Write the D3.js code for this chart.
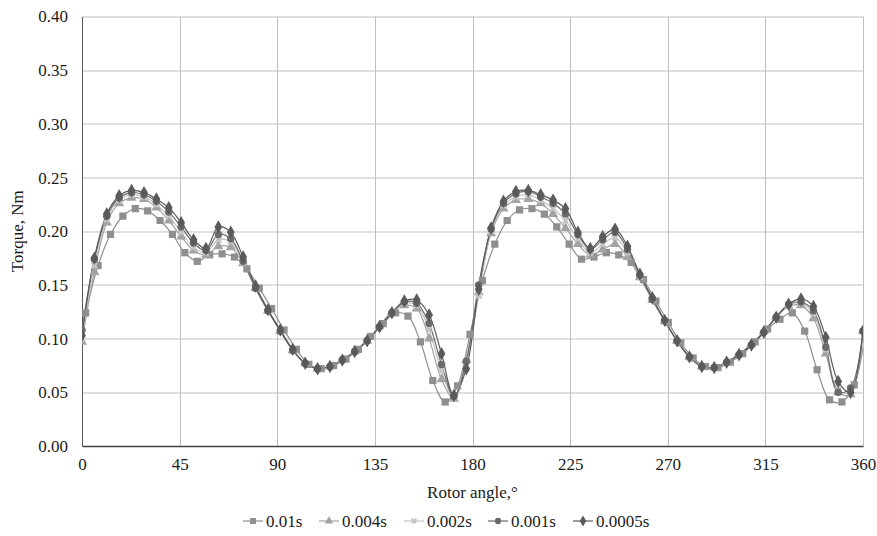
<!DOCTYPE html>
<html>
<head>
<meta charset="utf-8">
<script src="https://cdn.jsdelivr.net/npm/d3@7"></script>
<style>
  body { margin: 0; background: #fff; }
</style>
</head>
<body>
<div id="chart"></div>
<script>
// angle grid: step between samples, per-series start offset
const angleStep = 360 / 63;
const seriesNames = ['0.01s', '0.004s', '0.002s', '0.001s', '0.0005s'];
const seriesOffsets = [1.7, 0, 0, 0, 0];

const torque001 = [0.124, 0.168, 0.197, 0.214, 0.221, 0.219, 0.210, 0.197, 0.180, 0.172,
  0.178, 0.179, 0.176, 0.165, 0.147, 0.128, 0.108, 0.090, 0.076, 0.072,
  0.075, 0.081, 0.090, 0.102, 0.114, 0.124, 0.121, 0.097, 0.061, 0.041,
  0.056, 0.104, 0.154, 0.188, 0.210, 0.220, 0.221, 0.216, 0.204, 0.188,
  0.174, 0.176, 0.180, 0.178, 0.171, 0.155, 0.135, 0.115, 0.096, 0.082,
  0.074, 0.073, 0.078, 0.086, 0.097, 0.109, 0.118, 0.124, 0.107, 0.071,
  0.043, 0.041, 0.057, 0.115];
const torque0004 = [0.097, 0.162, 0.208, 0.226, 0.231, 0.230, 0.222, 0.210, 0.195, 0.182,
  0.178, 0.186, 0.185, 0.170, 0.147, 0.126, 0.107, 0.089, 0.077, 0.072,
  0.074, 0.080, 0.088, 0.098, 0.112, 0.125, 0.131, 0.128, 0.100, 0.062,
  0.044, 0.080, 0.143, 0.198, 0.221, 0.229, 0.230, 0.226, 0.216, 0.203,
  0.188, 0.178, 0.183, 0.188, 0.176, 0.157, 0.136, 0.116, 0.098, 0.083,
  0.074, 0.073, 0.078, 0.086, 0.095, 0.107, 0.120, 0.130, 0.131, 0.119,
  0.086, 0.050, 0.048, 0.107];
const torque0002 = [0.100, 0.168, 0.211, 0.229, 0.234, 0.232, 0.225, 0.214, 0.199, 0.185,
  0.180, 0.192, 0.190, 0.171, 0.147, 0.126, 0.107, 0.089, 0.077, 0.072,
  0.074, 0.080, 0.088, 0.098, 0.111, 0.124, 0.133, 0.131, 0.108, 0.070,
  0.045, 0.078, 0.140, 0.200, 0.224, 0.232, 0.234, 0.229, 0.221, 0.210,
  0.193, 0.180, 0.188, 0.194, 0.180, 0.158, 0.137, 0.117, 0.098, 0.083,
  0.074, 0.073, 0.078, 0.085, 0.094, 0.106, 0.120, 0.131, 0.133, 0.123,
  0.090, 0.052, 0.050, 0.107];
const torque0001 = [0.108, 0.174, 0.214, 0.231, 0.236, 0.234, 0.228, 0.218, 0.204, 0.189,
  0.182, 0.197, 0.193, 0.172, 0.147, 0.126, 0.107, 0.089, 0.077, 0.072,
  0.074, 0.080, 0.088, 0.098, 0.111, 0.124, 0.134, 0.133, 0.114, 0.076,
  0.046, 0.079, 0.150, 0.202, 0.226, 0.235, 0.237, 0.232, 0.226, 0.216,
  0.197, 0.183, 0.192, 0.199, 0.183, 0.159, 0.137, 0.117, 0.098, 0.083,
  0.074, 0.073, 0.078, 0.085, 0.094, 0.106, 0.120, 0.132, 0.134, 0.126,
  0.092, 0.050, 0.054, 0.107];
const torque00005 = [0.103, 0.175, 0.216, 0.233, 0.238, 0.236, 0.230, 0.222, 0.208, 0.192,
  0.184, 0.204, 0.199, 0.176, 0.149, 0.127, 0.108, 0.090, 0.077, 0.072,
  0.074, 0.080, 0.088, 0.098, 0.111, 0.124, 0.135, 0.136, 0.122, 0.086,
  0.047, 0.072, 0.146, 0.203, 0.228, 0.237, 0.238, 0.234, 0.229, 0.221,
  0.199, 0.184, 0.195, 0.202, 0.186, 0.160, 0.138, 0.117, 0.098, 0.083,
  0.074, 0.073, 0.078, 0.085, 0.094, 0.106, 0.120, 0.132, 0.137, 0.130,
  0.101, 0.060, 0.050, 0.107];

const xTicks = [0, 45, 90, 135, 180, 225, 270, 315, 360];
const yTicks = [0, 0.05, 0.10, 0.15, 0.20, 0.25, 0.30, 0.35, 0.40];

const allValues = [torque001, torque0004, torque0002, torque0001, torque00005];
const colors = ['#8f8f8f', '#a3a3a3', '#c4c4c4', '#6b6b6b', '#5a5a5a'];
const markers = [d3.symbolSquare, d3.symbolTriangle, d3.symbolCross, d3.symbolCircle, d3.symbolDiamond];
const markerSize = [52, 44, 32, 44, 52];
const fontFamily = '"Liberation Serif", "Times New Roman", Tinos, "DejaVu Serif", serif';
const textColor = '#1a1a1a';

const series = seriesNames.map((name, i) => ({
    name: name,
    color: colors[i],
    points: allValues[i].map((v, k) => ({ a: seriesOffsets[i] + k * angleStep, v: v }))
}));

const W = 877, H = 536;
const margin = { top: 16.5, right: 14, bottom: 90, left: 82 };
const width = W - margin.left - margin.right;
const height = H - margin.top - margin.bottom;

const svg = d3.select('#chart').append('svg')
    .attr('width', W)
    .attr('height', H)
    .attr('font-family', fontFamily);

const g = svg.append('g')
    .attr('transform', `translate(${margin.left}, ${margin.top})`);

const x = d3.scaleLinear().domain([0, 360]).range([0, width]);
const y = d3.scaleLinear().domain([0, 0.40]).range([height, 0]);

// gridlines
g.append('g')
    .selectAll('line')
    .data(yTicks.slice(1))
    .enter().append('line')
    .attr('x1', 0).attr('x2', width)
    .attr('y1', d => Math.round(y(d)) + 0.5).attr('y2', d => Math.round(y(d)) + 0.5)
    .style('stroke', '#bfbfbf');
g.append('g')
    .selectAll('line')
    .data(xTicks.slice(1))
    .enter().append('line')
    .attr('y1', 0).attr('y2', height)
    .attr('x1', d => Math.round(x(d)) + 0.5).attr('x2', d => Math.round(x(d)) + 0.5)
    .style('stroke', '#bfbfbf');

// axes
const yAxis = g.append('g')
    .call(d3.axisLeft(y).tickValues(yTicks).tickFormat(d3.format('.2f')).tickSize(0).tickPadding(14));
yAxis.attr('font-family', null).attr('font-size', null);
yAxis.select('.domain').style('stroke', '#595959');
yAxis.selectAll('text')
    .style('font-family', fontFamily)
    .style('font-size', '17px')
    .style('fill', textColor);

const xAxis = g.append('g')
    .attr('transform', `translate(0, ${height})`)
    .call(d3.axisBottom(x).tickValues(xTicks).tickSize(0).tickPadding(12));
xAxis.attr('font-family', null).attr('font-size', null);
xAxis.select('.domain').style('stroke', '#404040').style('stroke-width', 1.5);
xAxis.selectAll('text')
    .style('font-family', fontFamily)
    .style('font-size', '17px')
    .style('fill', textColor);

svg.append('text')
    .attr('transform', `translate(23, ${margin.top + height / 2}) rotate(-90)`)
    .attr('text-anchor', 'middle')
    .style('font-family', fontFamily)
    .style('font-size', '17px')
    .style('fill', textColor)
    .text('Torque, Nm');

svg.append('text')
    .attr('x', margin.left + width / 2)
    .attr('y', 498)
    .attr('text-anchor', 'middle')
    .style('font-family', fontFamily)
    .style('font-size', '17px')
    .style('fill', textColor)
    .text('Rotor angle,°');

svg.append('clipPath').attr('id', 'plotClip')
    .append('rect').attr('x', 0).attr('y', -5).attr('width', width).attr('height', height + 10);

const line = d3.line()
    .x(d => x(d.a))
    .y(d => y(d.v))
    .curve(d3.curveCatmullRom.alpha(0.5));

const plot = g.append('g').attr('clip-path', 'url(#plotClip)');

series.forEach((s, i) => {
    plot.append('path')
        .datum(s.points)
        .attr('d', line)
        .style('fill', 'none')
        .style('stroke', s.color)
        .style('stroke-width', 1.2);
});

series.forEach((s, i) => {
    plot.append('g')
        .selectAll('path')
        .data(s.points.filter(p => p.a <= 360))
        .enter().append('path')
        .attr('transform', p => `translate(${x(p.a)}, ${y(p.v)})` + (i == 2 ? ' rotate(45)' : ''))
        .attr('d', d3.symbol().type(markers[i]).size(markerSize[i]))
        .style('fill', s.color);
});

// legend
const legendX = [243, 319, 404, 488, 573];
const legend = svg.append('g')
    .selectAll('g')
    .data(series)
    .enter().append('g')
    .attr('transform', (d, i) => `translate(${legendX[i]}, 521)`);

legend.append('line')
    .attr('x1', 0).attr('x2', 20)
    .style('stroke', d => d.color)
    .style('stroke-width', 1.2);
legend.append('path')
    .attr('transform', (d, i) => 'translate(10, 0)' + (i == 2 ? ' rotate(45)' : ''))
    .attr('d', (d, i) => d3.symbol().type(markers[i]).size(markerSize[i] * 0.7)())
    .style('fill', d => d.color);
legend.append('text')
    .attr('x', 23)
    .attr('dy', '0.35em')
    .style('font-family', fontFamily)
    .style('font-size', '17px')
    .style('fill', textColor)
    .text(d => d.name);
</script>
</body>
</html>
